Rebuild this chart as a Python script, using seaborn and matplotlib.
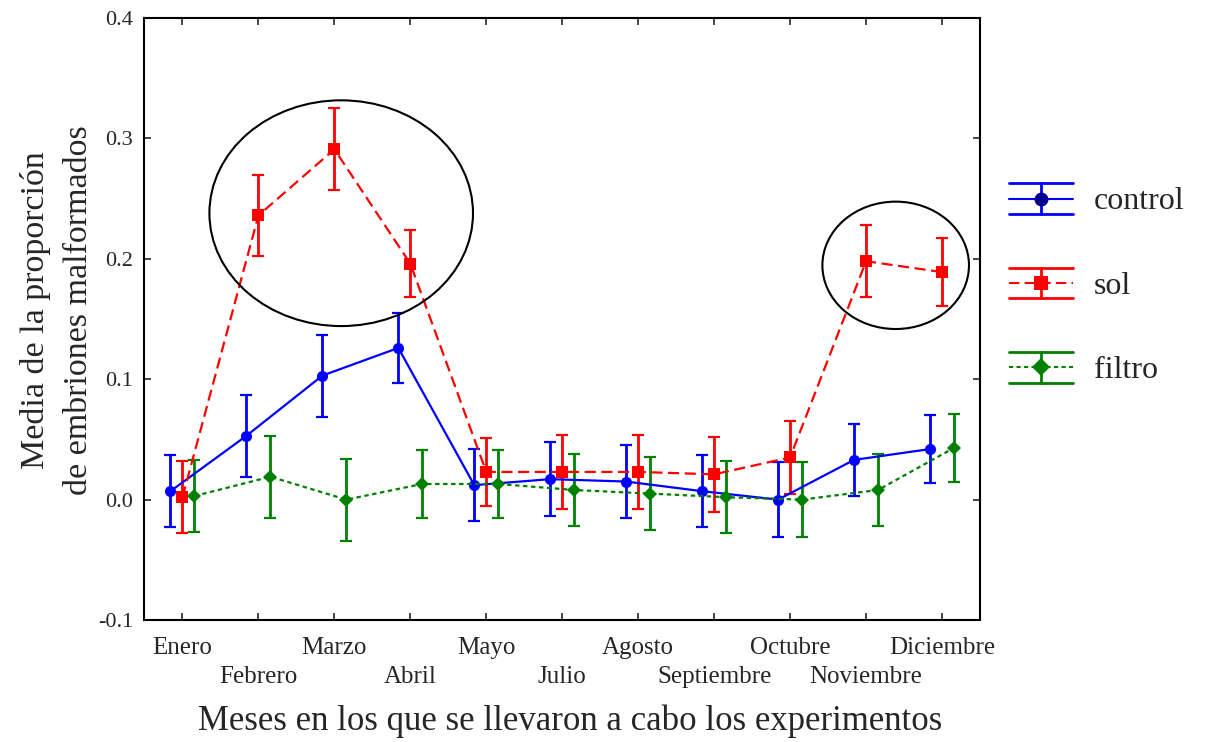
import numpy as np
import pandas as pd
import matplotlib
matplotlib.use("Agg")
import matplotlib.pyplot as plt
import seaborn as sns
from matplotlib.lines import Line2D
from matplotlib.patches import Ellipse
from matplotlib.legend_handler import HandlerBase

# ---- data ----
months = ["Enero", "Febrero", "Marzo", "Abril", "Mayo", "Julio", "Agosto",
          "Septiembre", "Octubre", "Noviembre", "Diciembre"]
control_mean = [0.007, 0.053, 0.103, 0.126, 0.012, 0.017, 0.015, 0.007, 0.000, 0.033, 0.042]
control_err = [0.030, 0.034, 0.034, 0.029, 0.030, 0.031, 0.030, 0.030, 0.031, 0.030, 0.028]
sol_mean = [0.002, 0.236, 0.291, 0.196, 0.023, 0.023, 0.023, 0.021, 0.035, 0.198, 0.189]
sol_err = [0.030, 0.034, 0.034, 0.028, 0.028, 0.031, 0.031, 0.031, 0.030, 0.030, 0.028]
filtro_mean = [0.003, 0.019, 0.000, 0.013, 0.013, 0.008, 0.005, 0.002, 0.000, 0.008, 0.043]
filtro_err = [0.030, 0.034, 0.034, 0.028, 0.028, 0.030, 0.030, 0.030, 0.031, 0.030, 0.028]
series_names = ["control", "sol", "filtro"]
y_ticks = [-0.1, 0.0, 0.1, 0.2, 0.3, 0.4]

sns.set_style("ticks")
plt.rcParams["font.family"] = ["Liberation Serif", "DejaVu Serif"]

fig = plt.figure(figsize=(12.06, 7.42), dpi=100)
ax = fig.add_axes([0.1198, 0.1644, 0.8126 - 0.1198, 0.9757 - 0.1644])

styles = {
    "control": dict(mean=control_mean, err=control_err, color="#0000FF", marker="o", ms=8,
                    ls="-", off=-0.158, legmc="#00008B"),
    "sol": dict(mean=sol_mean, err=sol_err, color="#FF0000", marker="s", ms=8,
                ls=(0, (5, 2.5)), off=0.0, legmc="#FF0000"),
    "filtro": dict(mean=filtro_mean, err=filtro_err, color="#008000", marker="D", ms=7.5,
                   ls=(0, (2, 1.6)), off=0.158, legmc="#008000"),
}

idx = np.arange(len(months))
for name in series_names:
    s = styles[name]
    xs = idx + s["off"]
    df = pd.DataFrame({"x": xs, "y": s["mean"]})
    ax.errorbar(xs, s["mean"], yerr=s["err"], fmt="none", ecolor=s["color"],
                elinewidth=2, capsize=4.3, capthick=1.6, zorder=2)
    sns.lineplot(data=df, x="x", y="y", ax=ax, color=s["color"], linestyle=s["ls"],
                 linewidth=1.6, marker=s["marker"], markersize=s["ms"],
                 markeredgecolor=s["color"], markeredgewidth=0, zorder=3,
                 legend=False)

# annotation ellipses
ax.add_patch(Ellipse((2.09, 0.2379), 3.47, 0.1875, fill=False, ec="black", lw=1.5, zorder=4))
ax.add_patch(Ellipse((9.39, 0.1946), 1.93, 0.1058, fill=False, ec="black", lw=1.5, zorder=4))

ax.set_xlim(-0.5, 10.5)
ax.set_ylim(-0.1, 0.4)
ax.set_yticks(y_ticks)
ax.set_yticklabels([f"{v:.1f}" for v in y_ticks], fontsize=16)

# alternate month labels on two rows: even months as major ticks, odd as minor ticks
ax.set_xticks(idx[::2])
ax.set_xticklabels(months[::2], fontsize=18)
ax.set_xticks(idx[1::2], minor=True)
ax.set_xticklabels(months[1::2], minor=True, fontsize=18)
ax.tick_params(axis="both", which="both", direction="in", top=True, right=True,
               length=5, width=1.2)
ax.tick_params(axis="y", pad=8)
ax.tick_params(axis="x", which="major", pad=12)
ax.tick_params(axis="x", which="minor", pad=33)
for sp in ax.spines.values():
    sp.set_linewidth(1.5)
    sp.set_color("black")

ax.set_xlabel("Meses en los que se llevaron a cabo los experimentos", fontsize=25, labelpad=12)
ax.xaxis.label.set_x(0.509)
ax.set_ylabel("Media de la proporción\nde embriones malformados", fontsize=24.5, labelpad=3,
              linespacing=1.55)
ax.yaxis.label.set_y(0.515)


class ErrHandler(HandlerBase):
    def __init__(self, color, ls, marker, ms, mc):
        super().__init__()
        self.color, self.ls, self.marker, self.ms, self.mc = color, ls, marker, ms, mc

    def create_artists(self, legend, orig_handle, xdescent, ydescent, width, height,
                       fontsize, trans):
        x0, x1 = -xdescent, -xdescent + width
        y0, y1 = -ydescent, -ydescent + height
        xm, ym = (x0 + x1) / 2, (y0 + y1) / 2
        arts = [
            Line2D([x0, x1], [y1, y1], color=self.color, lw=2),
            Line2D([x0, x1], [y0, y0], color=self.color, lw=2),
            Line2D([xm, xm], [y0, y1], color=self.color, lw=2),
            Line2D([x0, x1], [ym, ym], color=self.color, lw=1.5, linestyle=self.ls),
            Line2D([xm], [ym], marker=self.marker, markersize=self.ms, color=self.mc,
                   markeredgewidth=0, linestyle="none"),
        ]
        for a in arts:
            a.set_transform(trans)
        return arts


handles, hmap = [], {}
for name in series_names:
    s = styles[name]
    h = Line2D([], [], color=s["color"])
    handles.append(h)
    hmap[h] = ErrHandler(s["color"], s["ls"], s["marker"], s["ms"] + 2, s["legmc"])

fig.legend(handles, series_names, handler_map=hmap, loc="center left",
           bbox_to_anchor=(0.8367, 0.617), frameon=False, fontsize=23,
           handlelength=2.0, handleheight=1.1, labelspacing=1.6, handletextpad=0.65,
           borderpad=0, borderaxespad=0)

fig.savefig("out.png", dpi=100)
